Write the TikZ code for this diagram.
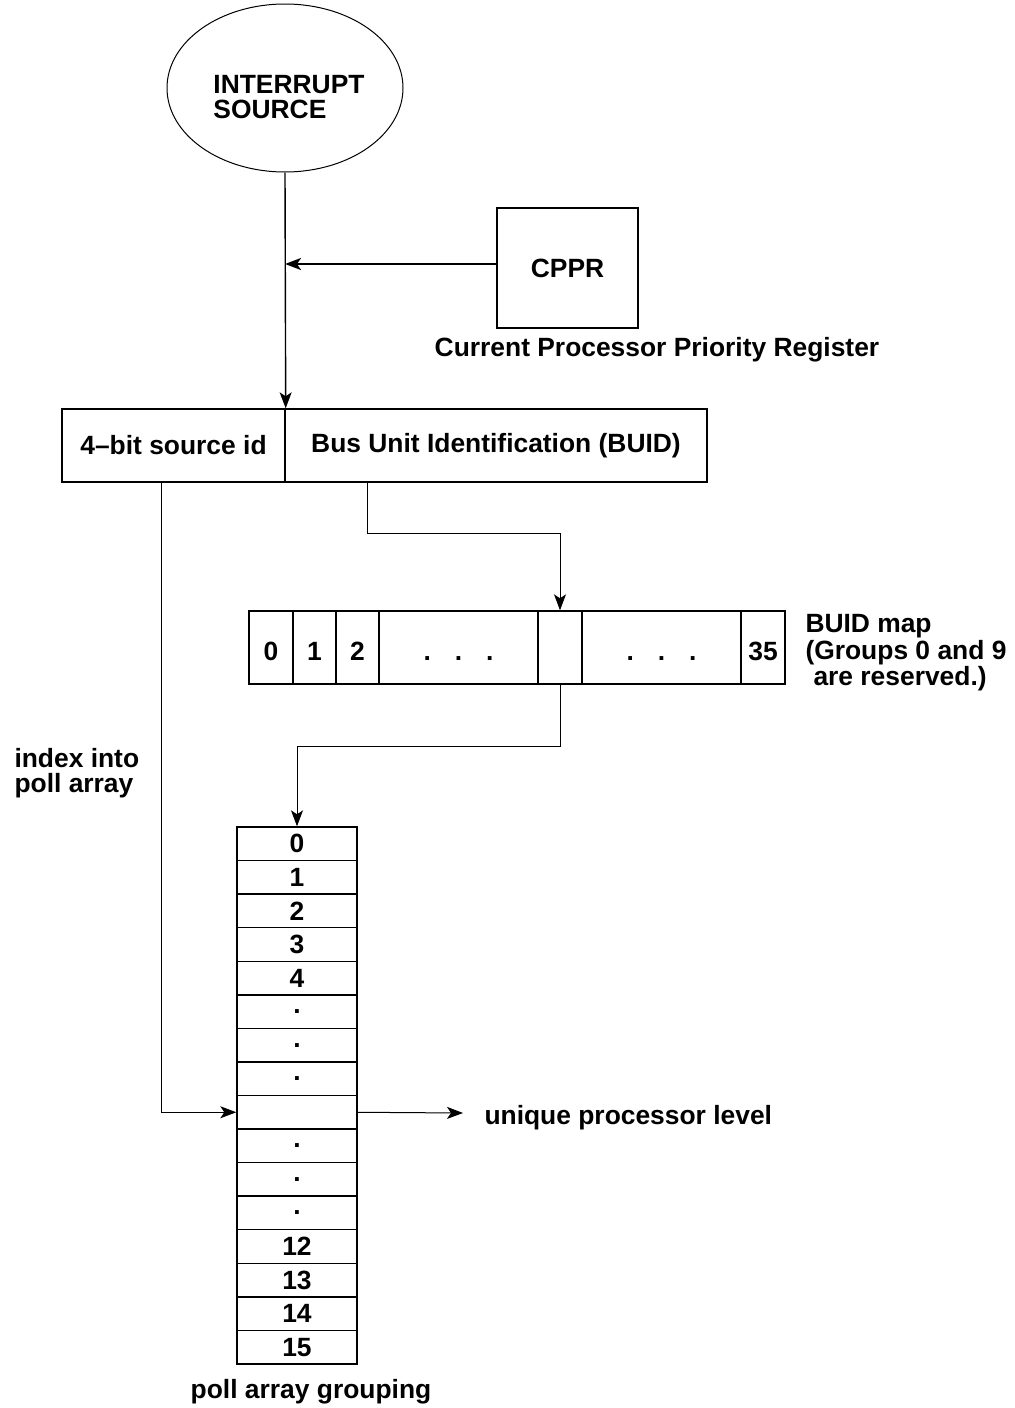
\documentclass[tikz,border=0pt]{standalone}
\usepackage{fontspec}
\setmainfont{Liberation Sans}
\usetikzlibrary{arrows.meta,shapes.geometric}

\tikzset{
  lbl/.style={font=\bfseries\fontsize{13.2}{12.5}\selectfont, inner sep=0pt},
  box/.style={lbl, draw, line width=0.7pt},
  arr/.style={-{Stealth[length=8pt,width=6pt,inset=2pt]}}
}

\begin{document}
\begin{tikzpicture}[x=0.5pt,y=-0.5pt,line width=0.5pt]
    \useasboundingbox (0,0) rectangle (1014,1408);

    % Interrupt source
    \node[draw, ellipse, inner sep=0pt, minimum width=118pt, minimum height=84pt] (src) at (285,88) {};
    \node[lbl, align=left] (srclabel) at (289,97) {INTERRUPT\\SOURCE};

    % Priority register
    \node[box, minimum width=70.5pt, minimum height=60pt] (cppr) at (567.5,268) {CPPR};
    \node[lbl] (cpprname) at (657,350) {Current Processor Priority Register};

    % Interrupt identifier
    \node[box, minimum width=111.5pt, minimum height=36.5pt] (srcid) at (173.5,445.5) {4--bit source id};
    \node[box, minimum width=211pt, minimum height=36.5pt] (buid) at (496,445.5) {Bus Unit Identification (BUID)};

    % BUID map cells
    \foreach \l/\r/\txt/\n in {249/293/0/bm0, 293/336/1/bm1, 336/379/2/bm2,
        379/538/{.\hspace{12pt}.\hspace{12pt}.}/bmdots, 538/582/{}/bmslot,
        582/741/{.\hspace{12pt}.\hspace{12pt}.}/bmdotss, 741/785/35/bm35}
    \node[box, minimum width={(\r-\l)*0.5pt}, minimum height=36.5pt,
      text height=13pt, text depth=0pt] (\n) at ({(\l+\r)/2},647.5) {\txt};

    \node[lbl, align=left, anchor=north west, font=\bfseries\fontsize{13.2}{11.8}\selectfont]
      (maplabel) at (805,614) {BUID map\\(Groups 0 and 9\\\hspace{4pt}are reserved.)};

    % Poll array rows
    \foreach \i/\txt in {0/0,1/1,2/2,3/3,4/4,5/.,6/.,7/.,8/{},9/.,10/.,11/.,12/12,13/13,14/14,15/15}
    \node[box, minimum width=60pt, minimum height=16.78pt] (row\i) at (297,{827+33.56*(\i+0.5)}) {\txt};

    \node[lbl] (pollname) at (311,1392) {poll array grouping};
    \node[lbl, align=left, anchor=north west] (idxlabel) at (14,748) {index into\\poll array};
    \node[lbl, anchor=west] (level) at (484,1118) {unique processor level};

    % Connectors
    \coordinate (cpprtap) at ([yshift=2pt]cppr.west);
    \coordinate (idtap) at (161,482);
    \coordinate (buidtap) at (367,482);
    \coordinate (outtip) at (463,1113);

    \draw[arr, line width=0.7pt] (src.south) -- (srcid.north east);
    \draw[arr, line width=1.1pt] (cpprtap) -- (src.south |- cpprtap);
    \draw[arr] (buidtap) -- ++(0,51) -| (bmslot.north);
    \draw[arr] (bmslot.south) -- ++(0,62) -| (row0.north);
    \draw[arr] (idtap) |- (row8.west);
    \draw[arr] (row8.east) -- (outtip);

  \end{tikzpicture}
\end{document}
